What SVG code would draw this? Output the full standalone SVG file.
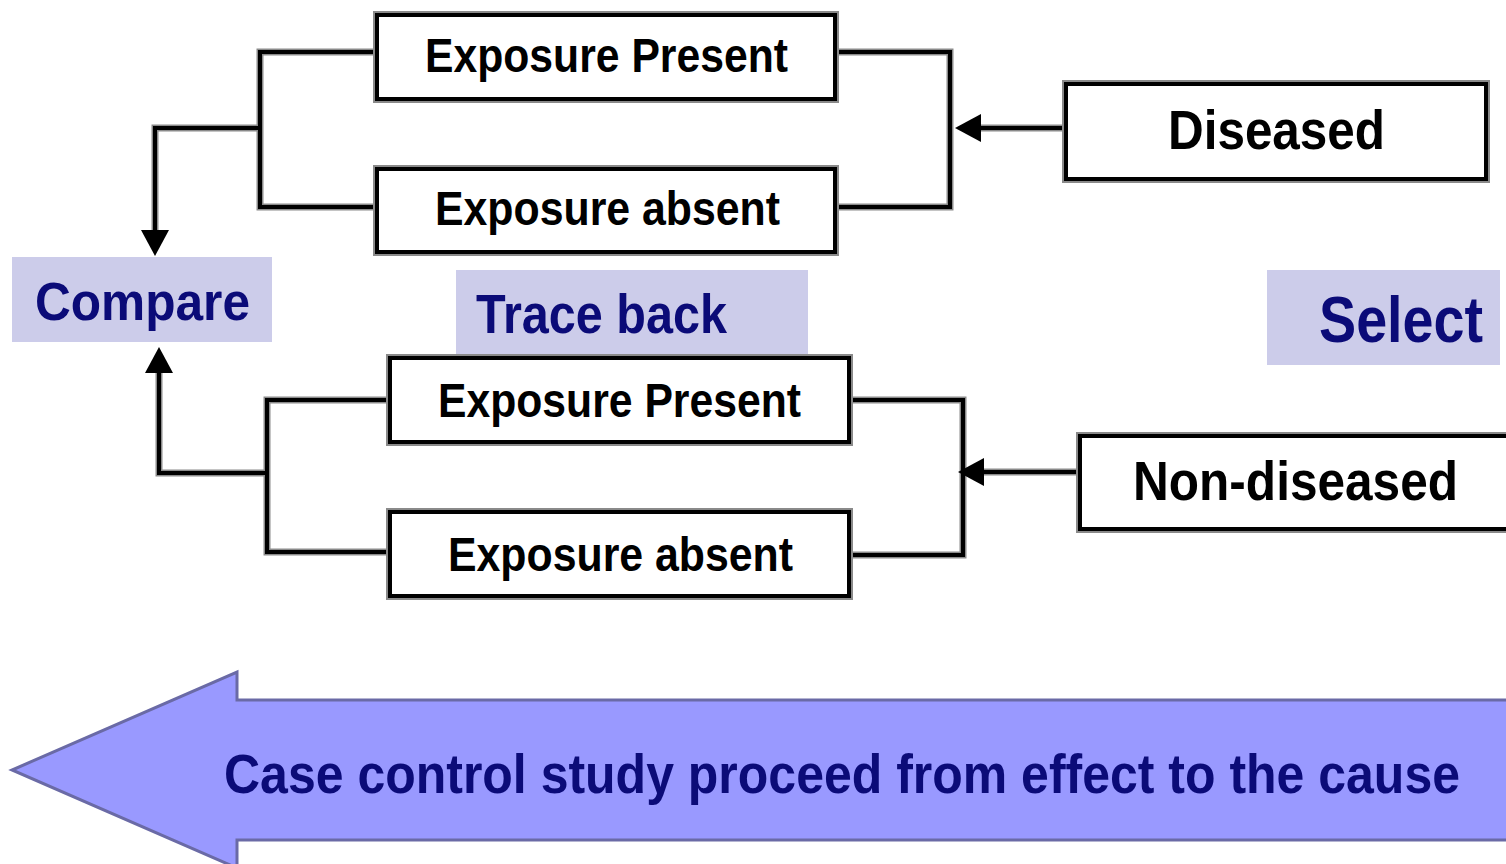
<svg xmlns="http://www.w3.org/2000/svg" width="1506" height="864" viewBox="0 0 1506 864">
<style>
.sh{fill:none;stroke:#8a8a8a;stroke-width:8}
.bx{fill:#fff;stroke:#000;stroke-width:4}
.lnS{fill:none;stroke:#8a8a8a;stroke-width:7}
.ln{fill:none;stroke:#000;stroke-width:4}
.bt{font-family:"Liberation Sans",Arial,sans-serif;font-weight:bold;fill:#000}
.lbl{fill:#ccccea}
.lt{font-family:"Liberation Sans",Arial,sans-serif;font-weight:bold;fill:#0b0b78}
</style>
<defs>
<marker id="ah" viewBox="0 0 26 28" refX="0" refY="14" markerWidth="26" markerHeight="28" markerUnits="userSpaceOnUse" orient="auto">
<path d="M0,0 L26,14 L0,28 z" fill="#000"/>
</marker>
</defs>
<rect width="1506" height="864" fill="#fff"/>

<g id="big-arrow">
<polygon points="12,770 237,672 237,700 1506,700 1506,840 237,840 237,868" fill="#9999ff"/>
<path d="M1506,700 H237 V672 L12,770 L237,868 V840 H1506" fill="none" stroke="#6a6aa6" stroke-width="3"/>
<text class="lt" x="224" y="793" font-size="56" textLength="1236" lengthAdjust="spacingAndGlyphs">Case control study proceed from effect to the cause</text>
</g>

<g id="connectors">
<path class="lnS" d="M377,52 H260 V207 H377 M260,128 H155 V230"/>
<path class="ln" d="M377,52 H260 V207 H377"/>
<path class="ln" d="M260,128 H155 V230" marker-end="url(#ah)"/>
<path class="lnS" d="M835,52 H950 V207 H835 M1064,128 H981"/>
<path class="ln" d="M835,52 H950 V207 H835"/>
<path class="ln" d="M1064,128 H981" marker-end="url(#ah)"/>
<path class="lnS" d="M390,400 H267 V552 H390 M267,473 H159 V373"/>
<path class="ln" d="M390,400 H267 V552 H390"/>
<path class="ln" d="M267,473 H159 V373" marker-end="url(#ah)"/>
<path class="lnS" d="M849,400 H963 V555 H849 M1078,472 H984"/>
<path class="ln" d="M849,400 H963 V555 H849"/>
<path class="ln" d="M1078,472 H984" marker-end="url(#ah)"/>
</g>

<g id="compare">
<rect class="lbl" x="12" y="257" width="260" height="85"/>
<text class="lt" x="35" y="320" font-size="54" textLength="215" lengthAdjust="spacingAndGlyphs">Compare</text>
</g>
<g id="trace-back">
<rect class="lbl" x="456" y="270" width="352" height="86"/>
<text class="lt" x="476" y="333" font-size="56" textLength="251" lengthAdjust="spacingAndGlyphs">Trace back</text>
</g>
<g id="select">
<rect class="lbl" x="1267" y="270" width="233" height="95"/>
<text class="lt" x="1319" y="342" font-size="64" textLength="164" lengthAdjust="spacingAndGlyphs">Select</text>
</g>

<g id="exp-present-1">
<rect class="sh" x="377" y="15" width="458" height="84"/>
<rect class="bx" x="377" y="15" width="458" height="84"/>
<text class="bt" x="425" y="72" font-size="49" textLength="363" lengthAdjust="spacingAndGlyphs">Exposure Present</text>
</g>
<g id="exp-absent-1">
<rect class="sh" x="377" y="169" width="458" height="83"/>
<rect class="bx" x="377" y="169" width="458" height="83"/>
<text class="bt" x="435" y="225" font-size="49" textLength="345" lengthAdjust="spacingAndGlyphs">Exposure absent</text>
</g>
<g id="exp-present-2">
<rect class="sh" x="390" y="358" width="459" height="84"/>
<rect class="bx" x="390" y="358" width="459" height="84"/>
<text class="bt" x="438" y="417" font-size="49" textLength="363" lengthAdjust="spacingAndGlyphs">Exposure Present</text>
</g>
<g id="exp-absent-2">
<rect class="sh" x="390" y="512" width="459" height="84"/>
<rect class="bx" x="390" y="512" width="459" height="84"/>
<text class="bt" x="448" y="571" font-size="49" textLength="345" lengthAdjust="spacingAndGlyphs">Exposure absent</text>
</g>
<g id="diseased">
<rect class="sh" x="1066" y="84" width="420" height="95"/>
<rect class="bx" x="1066" y="84" width="420" height="95"/>
<text class="bt" x="1168" y="149" font-size="56" textLength="217" lengthAdjust="spacingAndGlyphs">Diseased</text>
</g>
<g id="non-diseased">
<rect class="sh" x="1080" y="436" width="440" height="93"/>
<rect class="bx" x="1080" y="436" width="440" height="93"/>
<text class="bt" x="1133" y="500" font-size="56" textLength="325" lengthAdjust="spacingAndGlyphs">Non-diseased</text>
</g>
</svg>
